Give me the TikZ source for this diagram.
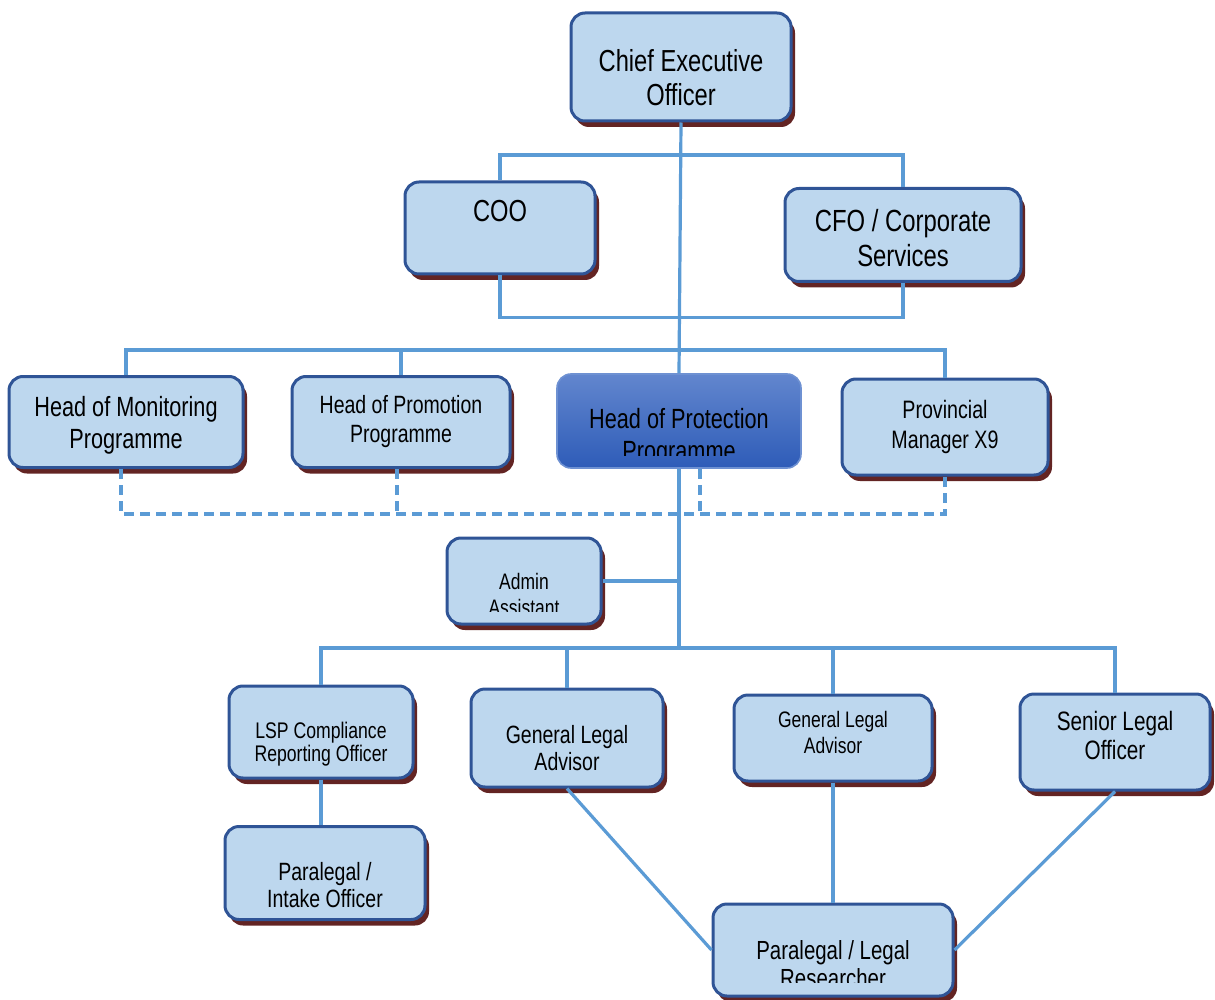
\documentclass[tikz,border=0pt]{standalone}
\usepackage{fontspec}
\setmainfont{Liberation Sans}[FakeStretch=0.78]
\usetikzlibrary{shadows}

\definecolor{boxfill}{RGB}{189,215,238}
\definecolor{boxline}{RGB}{47,84,150}
\definecolor{boxshade}{RGB}{99,36,35}
\definecolor{linkcol}{RGB}{91,155,213}
\definecolor{headtop}{RGB}{98,134,206}
\definecolor{headbot}{RGB}{46,92,184}
\definecolor{headline}{RGB}{110,145,210}

\begin{document}
\begin{tikzpicture}[x=0.5pt, y=-0.5pt,
	post/.style={rectangle, rounded corners=7pt, draw=boxline, line width=1.5pt,
		fill=boxfill, align=center, inner sep=2pt,
		drop shadow={shadow xshift=2pt, shadow yshift=-3pt, fill=boxshade, opacity=1}},
	mainpost/.style={rectangle, rounded corners=7pt, draw=headline, line width=0.8pt,
		top color=headtop, bottom color=headbot},
	link/.style={draw=linkcol, line width=1.6pt},
	dashlink/.style={link, dash pattern=on 5pt off 3pt}]
\useasboundingbox (0,0) rectangle (1215,1000);

% Top level
\node[post, minimum width=110pt, minimum height=54pt,
	font=\fontsize{15.2}{17}\selectfont]
	(CEO) at (681,67) {\rule{0pt}{22pt}Chief Executive\\Officer};

% Executives
\node[post, minimum width=95pt, minimum height=46pt,
	font=\fontsize{15.2}{17}\selectfont]
	(COO) at (500,228) {COO\\\mbox{}};
\node[post, minimum width=118pt, minimum height=46.5pt,
	font=\fontsize{15.3}{17.5}\selectfont]
	(CFO) at (903,235) {\rule{0pt}{14pt}CFO / Corporate\\Services};

% Programme heads
\node[post, minimum width=117pt, minimum height=45.5pt,
	font=\fontsize{13.9}{16}\selectfont]
	(Head-1) at (126,422) {\rule{0pt}{13pt}Head of Monitoring\\Programme};
\node[post, minimum width=109pt, minimum height=45.5pt,
	font=\fontsize{12.5}{14.5}\selectfont]
	(Head-2) at (401,422) {Head of Promotion\\Programme};
\node[mainpost, minimum width=122pt, minimum height=47pt]
	(Head-3) at (679,421) {};
\coordinate (Cut-3) at (0,455);
\begin{scope}
	\clip (Head-3.north west) rectangle (Head-3.east |- Cut-3);
	\node[align=center, font=\fontsize{13.9}{16}\selectfont]
		(Head-3-text) at (679,437) {Head of Protection\\Programme};
\end{scope}
\node[post, minimum width=103pt, minimum height=48pt,
	font=\fontsize{12.6}{15}\selectfont]
	(Head-4) at (945,427) {Provincial\\Manager X9};

% Admin
\node[post, minimum width=77pt, minimum height=43pt]
	(Admin) at (524,581) {};
\coordinate (Cut-A) at (0,611);
\begin{scope}
	\clip (Admin.north west) rectangle (Admin.east |- Cut-A);
	\node[align=center, font=\fontsize{11.2}{13}\selectfont]
		(Admin-text) at (524,594) {Admin\\Assistant};
\end{scope}

% Legal team
\node[post, minimum width=92pt, minimum height=46pt,
	font=\fontsize{11.3}{11.6}\selectfont]
	(LSP) at (321,732) {\rule{0pt}{20pt}LSP Compliance\\Reporting Officer};
\node[post, minimum width=96pt, minimum height=49pt,
	font=\fontsize{12.5}{13.5}\selectfont]
	(Advisor-1) at (567,738) {\rule{0pt}{19pt}General Legal\\Advisor};
\node[post, minimum width=99pt, minimum height=43pt,
	font=\fontsize{11.2}{13}\selectfont]
	(Advisor-2) at (833,738) {General Legal\\Advisor\rule[-6pt]{0pt}{6pt}};
\node[post, minimum width=95pt, minimum height=48pt,
	font=\fontsize{13.3}{14.5}\selectfont]
	(Senior) at (1115,742) {Senior Legal\\Officer\rule[-7pt]{0pt}{7pt}};
\node[post, minimum width=100pt, minimum height=46.5pt,
	font=\fontsize{12.5}{13.5}\selectfont]
	(Intake) at (325,873) {\rule{0pt}{21pt}Paralegal /\\Intake Officer};
\node[post, minimum width=120pt, minimum height=46pt]
	(Research) at (833,950) {};
\coordinate (Cut-R) at (0,982);
\begin{scope}
	\clip (Research.north west) rectangle (Research.east |- Cut-R);
	\node[align=center, font=\fontsize{13.1}{14}\selectfont]
		(Research-text) at (833,964) {Paralegal / Legal\\Researcher};
\end{scope}

% Connect CEO - executives
\coordinate (Top-Bus) at (682,155);
\draw[link] (COO.north) |- (Top-Bus) -| (CFO.north);
\draw[link] (COO.south) -- ++(0,42) -| (CFO.south);
\draw[link] (CEO.south) -- (Head-3.north);

% Connect programme heads
\coordinate (Mid-Bus) at (682,350);
\draw[link] (Head-1.north) |- (Mid-Bus) -| (Head-4.north);
\draw[link] (Head-2.north) -- (Head-2.north |- Mid-Bus);

% Dashed lines
\coordinate (Dash-Bus) at (682,514);
\coordinate (Head-1-dash) at ([xshift=-2.5pt]Head-1.south);
\coordinate (Head-2-dash) at ([xshift=-2pt]Head-2.south);
\coordinate (Head-3-dash) at ([xshift=10.5pt]Head-3.south);
\draw[dashlink] (Head-1-dash) |- (Dash-Bus) -| (Head-4.south);
\foreach \n in {Head-2-dash, Head-3-dash}
{
	\draw[dashlink] (\n) -- (\n |- Dash-Bus);
}

% Connect protection team
\coordinate (Low-Bus) at (679,648);
\draw[link] (Head-3.south) -- (Low-Bus);
\draw[link] (Admin.east) -- (Admin.east -| Low-Bus);
\draw[link] (LSP.north) |- (Low-Bus) -| (Senior.north);
\foreach \n in {Advisor-1, Advisor-2}
{
	\draw[link] (\n.north) -- (\n.north |- Low-Bus);
}
\draw[link] (LSP.south) -- (LSP.south |- Intake.north);
\draw[link] (Advisor-1.south) -- (Research.west);
\draw[link] (Advisor-2.south) -- (Research.north);
\draw[link] (Senior.south) -- (Research.east);
\end{tikzpicture}
\end{document}
